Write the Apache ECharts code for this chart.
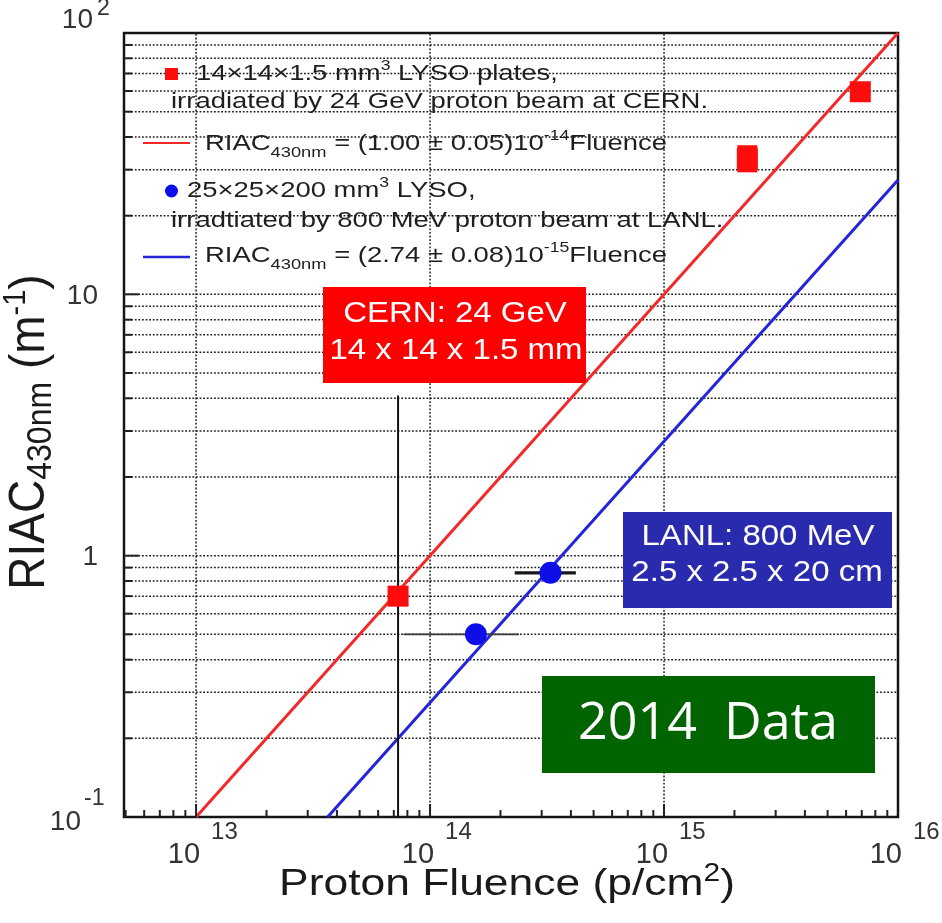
<!DOCTYPE html>
<html>
<head>
<meta charset="utf-8">
<title>RIAC vs proton fluence</title>
<script src="https://cdn.jsdelivr.net/npm/echarts@6.0.0/dist/echarts.min.js"></script>
<style>
  html, body { margin: 0; padding: 0; background: #ffffff; }
  #chart { width: 942px; height: 923px; }
</style>
</head>
<body>
<div id="chart"></div>
<script>
// ---- Measurements: proton fluence (p/cm^2) vs RIAC at 430 nm (1/m) ----
const cernFluence   = [7.3e13, 2.27e15, 6.9e15];
const cernRiac      = [0.70, 33.0, 59.6];
const cernRiacLow   = [0.70, 29.3, 59.6];
const cernRiacHigh  = [0.70, 37.2, 59.6];

const lanlFluence     = [1.57e14, 3.27e14];
const lanlRiac        = [0.50, 0.86];
const lanlFluenceLow  = [7.7e13, 2.3e14];
const lanlFluenceHigh = [2.4e14, 4.2e14];

// Linear fits: RIAC = slope * Fluence
const cernFitSlope = 1.00e-14;
const lanlFitSlope = 2.74e-15;

// Fluence marked under the CERN label
const cernMarkFluence = 7.3e13;
const cernMarkTop = 4.1;

// Axis ranges and tick labels
const X_MIN = 4.92e12, X_MAX = 1e16;
const Y_MIN = 0.1, Y_MAX = 100;
const xTickValues = [1e13, 1e14, 1e15, 1e16];
const xTickBase   = ['10', '10', '10', '10'];
const xTickExp    = ['13', '14', '15', '16'];
const yTickValues = [0.1, 1, 10, 100];
const yTickBase   = ['10', '1', '10', '10'];
const yTickExp    = ['-1', '', '', '2'];

const FONT = '"Liberation Sans", Arial, Helvetica, sans-serif';
const RED = '#ff0c0c';
const BLUE = '#0e0ee8';

// decade subdivisions (2..9 x 10^n) for grid and minor ticks
function subdivisions(lo, hi, withDecades) {
  const out = [];
  for (let e = Math.floor(Math.log10(lo)) - 1; e <= Math.ceil(Math.log10(hi)); e++) {
    for (let m = withDecades ? 1 : 2; m <= 9; m++) {
      const v = m * Math.pow(10, e);
      if (v > lo * 1.0001 && v < hi * 0.9999) out.push(v);
    }
  }
  return out;
}
const yGridValues = subdivisions(Y_MIN, Y_MAX, true);
const xGridValues = xTickValues.filter(v => v > X_MIN && v < X_MAX);
const xMinorTicks = subdivisions(X_MIN, X_MAX, false);
const yMinorTicks = subdivisions(Y_MIN, Y_MAX, false);
const yMajorTicks = yTickValues.filter(v => v > Y_MIN && v < Y_MAX);

const GRID_STYLE = { stroke: '#1e1e1e', lineWidth: 1.5, lineDash: [1.8, 1.8] };
const TICK_STYLE = { stroke: '#222', lineWidth: 2 };

const chart = echarts.init(document.getElementById('chart'));

function lineEl(p1, p2, style) {
  return { type: 'line', shape: { x1: p1[0], y1: p1[1], x2: p2[0], y2: p2[1] }, style: style };
}

const option = {
  animation: false,
  backgroundColor: '#ffffff',
  grid: { left: 124, top: 33, width: 774, height: 784, show: true,
          borderColor: '#151515', borderWidth: 2.5, backgroundColor: 'transparent' },
  xAxis: { type: 'log', logBase: 10, min: X_MIN, max: X_MAX,
           axisLine: { show: false }, axisTick: { show: false },
           axisLabel: { show: false }, splitLine: { show: false } },
  yAxis: { type: 'log', logBase: 10, min: Y_MIN, max: Y_MAX,
           axisLine: { show: false }, axisTick: { show: false },
           axisLabel: { show: false }, splitLine: { show: false } },
  series: [
    // horizontal dotted grid
    { type: 'custom', silent: true, z: 1,
      data: yGridValues.map(v => [X_MIN, v]),
      renderItem: (params, api) => lineEl(api.coord([X_MIN, api.value(1)]), api.coord([X_MAX, api.value(1)]), GRID_STYLE) },
    // vertical dotted grid at decades
    { type: 'custom', silent: true, z: 1,
      data: xGridValues.map(v => [v, Y_MIN]),
      renderItem: (params, api) => lineEl(api.coord([api.value(0), Y_MIN]), api.coord([api.value(0), Y_MAX]), GRID_STYLE) },
    // x-axis ticks (inward)
    { type: 'custom', silent: true, z: 5,
      data: xMinorTicks.map(v => [v, Y_MIN, 7]).concat(xGridValues.map(v => [v, Y_MIN, 13])),
      renderItem: (params, api) => {
        const p = api.coord([api.value(0), Y_MIN]);
        return lineEl(p, [p[0], p[1] - api.value(2)], TICK_STYLE);
      } },
    // y-axis ticks (inward)
    { type: 'custom', silent: true, z: 5,
      data: yMinorTicks.map(v => [X_MIN, v, 8]).concat(yMajorTicks.map(v => [X_MIN, v, 15])),
      renderItem: (params, api) => {
        const p = api.coord([X_MIN, api.value(1)]);
        return lineEl(p, [p[0] + api.value(2), p[1]], TICK_STYLE);
      } },
    // fit lines
    { name: 'CERN fit', type: 'line', z: 3, showSymbol: false, silent: true,
      lineStyle: { color: '#f02a2a', width: 3 },
      data: [[Y_MIN / cernFitSlope, Y_MIN], [X_MAX, cernFitSlope * X_MAX]] },
    { name: 'LANL fit', type: 'line', z: 3, showSymbol: false, silent: true,
      lineStyle: { color: '#2424d8', width: 3 },
      data: [[Y_MIN / lanlFitSlope, Y_MIN], [X_MAX, lanlFitSlope * X_MAX]] },
    // fluence marker below the CERN label
    { type: 'line', z: 3, showSymbol: false, silent: true,
      lineStyle: { color: '#111', width: 2 },
      data: [[cernMarkFluence, cernMarkTop], [cernMarkFluence, Y_MIN]] },
    // LANL horizontal error bars
    { type: 'custom', silent: true, z: 4,
      data: lanlFluence.map((f, i) => [lanlFluenceLow[i], lanlRiac[i], lanlFluenceHigh[i], i]),
      renderItem: (params, api) => {
        const y = api.value(1);
        const thick = api.value(3) === 1;
        return lineEl(api.coord([api.value(0), y]), api.coord([api.value(2), y]),
          { stroke: thick ? '#161616' : '#3a3a3a', lineWidth: thick ? 3.2 : 1.8 });
      } },
    // CERN vertical error bars
    { type: 'custom', silent: true, z: 4,
      data: cernFluence.map((f, i) => [f, cernRiacLow[i], cernRiacHigh[i]]),
      renderItem: (params, api) => {
        const lo = api.coord([api.value(0), api.value(1)]);
        const hi = api.coord([api.value(0), api.value(2)]);
        return { type: 'rect', shape: { x: lo[0] - 10, y: hi[1], width: 20, height: lo[1] - hi[1] },
                 style: { fill: RED } };
      } },
    // data points
    { name: 'CERN', type: 'scatter', z: 6, symbol: 'rect', symbolSize: 21,
      itemStyle: { color: RED, opacity: 1 },
      data: cernFluence.map((f, i) => [f, cernRiac[i]]) },
    { name: 'LANL', type: 'scatter', z: 6, symbol: 'circle', symbolSize: 22,
      itemStyle: { color: BLUE, opacity: 1 },
      data: lanlFluence.map((f, i) => [f, lanlRiac[i]]) }
  ]
};
chart.setOption(option);

// ---- text: tick labels, titles, legend, labels ----
const els = [];
function txt(x, y, text, o) {
  o = o || {};
  const el = {
    type: 'text', x: x, y: y, z: 100, silent: true,
    scaleX: o.scaleX || 1, scaleY: o.scaleY || 1, rotation: o.rotation || 0,
    style: {
      text: text, fill: o.fill || '#1a1a1a',
      fontSize: o.size || 28, fontFamily: o.family || FONT, fontWeight: o.weight || 'normal',
      align: o.align || 'left', verticalAlign: o.valign || 'middle',
      textAlign: o.align || 'left', textVerticalAlign: o.valign || 'middle',
      rich: o.rich
    }
  };
  els.push(el);
  return el;
}
// rich-text token: base line box plus raised / lowered small tokens
function tok(size, lh, va, fill) {
  return { fontSize: size, fontFamily: FONT, fill: fill || '#1a1a1a', lineHeight: lh, verticalAlign: va };
}

// x tick labels: 10 with raised exponent
xTickValues.forEach((v, i) => {
  const px = chart.convertToPixel({ xAxisIndex: 0 }, v);
  txt(px + 4, 855, xTickBase[i], { size: 29, align: 'right', fill: '#333' });
  txt(px + 15, 832, xTickExp[i], { size: 24, align: 'left', fill: '#333' });
});

// y tick labels
yTickValues.forEach((v, i) => {
  const py = chart.convertToPixel({ yAxisIndex: 0 }, v);
  if (yTickExp[i]) {
    const top = i === yTickValues.length - 1;
    txt(top ? 93 : 81, top ? py - 13 : py + 5, yTickBase[i], { size: 28, align: 'right', fill: '#333' });
    txt(top ? 97 : 84, top ? py - 24 : py - 18, yTickExp[i], { size: 23, align: 'left', fill: '#333' });
  } else {
    txt(98, py + 2, yTickBase[i], { size: 28, align: 'right', fill: '#333' });
  }
});

// axis titles
txt(507, 885, '{t|Proton Fluence (p/cm}{p|2}{t|)}', {
  size: 37, align: 'center', scaleX: 1.2,
  rich: { t: tok(37, 46, 'middle'), p: tok(25, 20, 'top') }
});
txt(30, 432, '{t|RIAC}{s|430nm}{t| (m}{p|-1}{t|)}', {
  size: 46, align: 'center', rotation: Math.PI / 2, scaleY: 1.08,
  rich: { t: tok(46, 54, 'middle'), s: tok(32, 28, 'bottom'), p: tok(29, 20, 'top') }
});

// legend
const LEG = { size: 22.5, scaleX: 1.22, fill: '#1e1e1e' };
const legRich = {
  t: tok(22.5, 32, 'middle', '#1e1e1e'),
  p: tok(14.5, 14, 'top', '#1e1e1e'),
  s: tok(15, 6, 'bottom', '#1e1e1e')
};
const legOpts = Object.assign({ rich: legRich }, LEG);
els.push({ type: 'rect', z: 100, silent: true, shape: { x: 165, y: 68, width: 13, height: 12 }, style: { fill: RED } });
txt(196, 74, '{t|14×14×1.5 mm}{p|3}{t| LYSO plates,}', legOpts);
txt(171, 102, 'irradiated by 24 GeV proton beam at CERN.', LEG);
els.push({ type: 'line', z: 100, silent: true, shape: { x1: 143, y1: 143, x2: 190, y2: 143 }, style: { stroke: '#f02a2a', lineWidth: 2 } });
txt(205, 144, '{t|RIAC}{s|430nm}{t| = (1.00 ± 0.05)10}{p|-14}{t|Fluence}', legOpts);
els.push({ type: 'circle', z: 100, silent: true, shape: { cx: 171.5, cy: 191, r: 6.5 }, style: { fill: BLUE } });
txt(187, 191, '{t|25×25×200 mm}{p|3}{t| LYSO,}', legOpts);
txt(171, 221, 'irradtiated by 800 MeV proton beam at LANL.', LEG);
els.push({ type: 'line', z: 100, silent: true, shape: { x1: 143, y1: 257, x2: 190, y2: 257 }, style: { stroke: '#2424d8', lineWidth: 2.5 } });
txt(205, 256, '{t|RIAC}{s|430nm}{t| = (2.74 ± 0.08)10}{p|-15}{t|Fluence}', legOpts);

// beam labels
els.push({ type: 'rect', z: 100, silent: true, shape: { x: 323, y: 287, width: 263, height: 96 }, style: { fill: '#ff0000' } });
txt(455, 314, 'CERN: 24 GeV', { size: 30, align: 'center', scaleX: 1.1, fill: '#ffffff' });
txt(456, 351, '14 x 14 x 1.5 mm', { size: 30, align: 'center', scaleX: 1.1, fill: '#ffffff' });

els.push({ type: 'rect', z: 100, silent: true, shape: { x: 623, y: 512, width: 269, height: 96 }, style: { fill: '#2a2aae' } });
txt(758, 537, 'LANL: 800 MeV', { size: 30, align: 'center', scaleX: 1.1, fill: '#ffffff' });
txt(757, 573, '2.5 x 2.5 x 20 cm', { size: 30, align: 'center', scaleX: 1.1, fill: '#ffffff' });

els.push({ type: 'rect', z: 100, silent: true, shape: { x: 542, y: 676, width: 333, height: 97 }, style: { fill: '#006400' } });
txt(708, 724, '2014  Data', { size: 52, align: 'center', fill: '#ffffff', family: '"Open Sans", Lato, sans-serif' });

chart.setOption({ graphic: { elements: els } });
</script>
</body>
</html>
